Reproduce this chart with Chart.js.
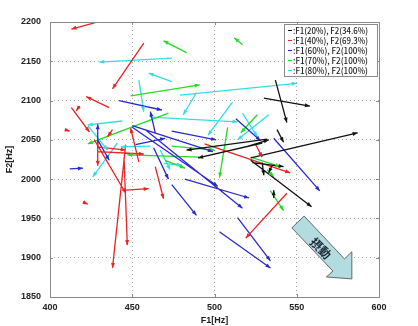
<!DOCTYPE html>
<html>
<head>
<meta charset="utf-8">
<script src="https://cdn.jsdelivr.net/npm/chart.js@4.4.1/dist/chart.umd.min.js"></script>
<style>
  html, body { margin: 0; padding: 0; background: #fff; }
  #wrap { width: 418px; height: 326px; }
</style>
</head>
<body>
<div id="wrap"><canvas id="formantChart"></canvas></div>
<script>
// 凡例
const seriesLabels = [
  'F1(20%), F2(34.6%)',
  'F1(40%), F2(69.3%)',
  'F1(60%), F2(100%)',
  'F1(70%), F2(100%)',
  'F1(80%), F2(100%)'
];
const seriesColors = ['#111111', '#ee2222', '#2a2acc', '#22dd22', '#33dde8'];

// 矢印: [F1始点, F2始点, F1終点, F2終点]
const arrows20 = [
  [522, 2024, 559, 1965], [530, 2103, 558, 2093], [537, 2126, 544, 2072],
  [538, 2063, 542, 2047], [522, 2027, 587, 2059], [532, 2051, 483, 2037],
  [529, 2046, 490, 2027], [519, 2041, 533, 2050], [523, 2021, 542, 2016],
  [529, 2021, 530, 2005], [536, 1976, 536, 1986], [535, 2018, 533, 2008]
];
const arrows40 = [
  [427, 2199, 413, 2191], [457, 2173, 438, 2115], [436, 2091, 422, 2105],
  [413, 2091, 424, 2060], [418, 2093, 416, 2087], [409, 2063, 412, 2061],
  [446, 2044, 438, 1887], [445, 2028, 447, 1916], [446, 1986, 460, 1988],
  [427, 2050, 446, 1982], [464, 2016, 469, 1975], [420, 1971, 423, 1968],
  [429, 2047, 429, 2017], [429, 2035, 457, 2032], [429, 2041, 446, 2037],
  [454, 2022, 449, 2065], [438, 2063, 435, 2054], [544, 1982, 519, 1925],
  [494, 2045, 546, 2008], [525, 2044, 529, 2028]
];
const arrows60 = [
  [442, 2100, 468, 2088], [464, 2059, 461, 2086], [429, 2040, 429, 2070],
  [429, 2050, 436, 2024], [463, 2040, 472, 2000], [474, 1993, 489, 1954],
  [482, 2000, 521, 1976], [458, 2063, 517, 1963], [450, 2066, 502, 1991],
  [514, 1951, 534, 1896], [503, 1933, 534, 1887], [536, 2052, 564, 1985],
  [412, 2013, 420, 2014], [452, 2044, 470, 2052], [513, 2077, 528, 2049],
  [450, 2068, 499, 2035], [474, 2061, 501, 2050]
];
const arrows70 = [
  [483, 2161, 469, 2176], [449, 2106, 491, 2120], [517, 2171, 512, 2180],
  [472, 2084, 423, 2045], [491, 2028, 447, 2031], [470, 2024, 482, 2014],
  [508, 2066, 503, 2002], [526, 2082, 516, 2059], [534, 1985, 542, 1960],
  [532, 2012, 536, 2003], [522, 2028, 540, 2016], [474, 2042, 500, 2037]
];
const arrows80 = [
  [474, 2154, 430, 2149], [474, 2124, 460, 2135], [454, 2126, 457, 2086],
  [479, 2107, 550, 2122], [489, 2110, 481, 2082], [444, 2074, 423, 2069],
  [461, 2079, 514, 2073], [441, 2046, 426, 2003], [461, 2042, 443, 2041],
  [467, 2037, 473, 2012], [469, 2020, 480, 2018], [511, 2098, 496, 2056],
  [517, 2084, 526, 2054], [533, 2082, 514, 2050], [423, 2068, 435, 2037]
];
const arrowSets = [arrows20, arrows40, arrows60, arrows70, arrows80];

// 目盛り
const f1Ticks = [400, 450, 500, 550, 600];
const f2Ticks = [1850, 1900, 1950, 2000, 2050, 2100, 2150, 2200];

// 線分データ (null で区切る)
function toSegments(list) {
  const pts = [];
  list.forEach(a => {
    pts.push({x: a[0], y: a[1]});
    pts.push({x: a[2], y: a[3]});
    pts.push({x: a[2], y: null});
  });
  return pts;
}

// 矢じり
const arrowHeadPlugin = {
  id: 'arrowHeads',
  afterDatasetsDraw(chart) {
    const {ctx, scales: {x, y}} = chart;
    for (let i = arrowSets.length - 1; i >= 0; i--) {
      ctx.save();
      ctx.fillStyle = seriesColors[i];
      arrowSets[i].forEach(a => {
        const x1 = x.getPixelForValue(a[0]), y1 = y.getPixelForValue(a[1]);
        const x2 = x.getPixelForValue(a[2]), y2 = y.getPixelForValue(a[3]);
        const ang = Math.atan2(y2 - y1, x2 - x1);
        const len = 5, w = 2;
        const bx = x2 - len * Math.cos(ang), by = y2 - len * Math.sin(ang);
        ctx.beginPath();
        ctx.moveTo(x2, y2);
        ctx.lineTo(bx + w * Math.sin(ang), by - w * Math.cos(ang));
        ctx.lineTo(bx - w * Math.sin(ang), by + w * Math.cos(ang));
        ctx.closePath();
        ctx.fill();
      });
      ctx.restore();
    }
  }
};

// 枠, 内側の目盛り線, 凡例, 摂動の矢印
const decorPlugin = {
  id: 'decor',
  afterDraw(chart) {
    const {ctx, chartArea: ca, scales: {x, y}} = chart;
    ctx.save();
    ctx.strokeStyle = '#8a8a8a';
    ctx.lineWidth = 1;
    ctx.setLineDash([]);
    ctx.strokeRect(Math.round(ca.left) + 0.5, Math.round(ca.top) + 0.5,
                   Math.round(ca.right - ca.left), Math.round(ca.bottom - ca.top));
    ctx.beginPath();
    f1Ticks.forEach(v => {
      const px = Math.round(x.getPixelForValue(v)) + 0.5;
      ctx.moveTo(px, ca.bottom); ctx.lineTo(px, ca.bottom - 3);
      ctx.moveTo(px, ca.top); ctx.lineTo(px, ca.top + 3);
    });
    f2Ticks.forEach(v => {
      const py = Math.round(y.getPixelForValue(v)) + 0.5;
      ctx.moveTo(ca.left, py); ctx.lineTo(ca.left + 3, py);
      ctx.moveTo(ca.right, py); ctx.lineTo(ca.right - 3, py);
    });
    ctx.stroke();

    // 摂動 の矢印
    const shape = [[547, 1938], [554.5, 1953], [579, 1898.5], [583.5, 1907.5],
                   [583.5, 1873], [568, 1875.5], [572, 1883]];
    ctx.beginPath();
    shape.forEach((p, i) => {
      const px = x.getPixelForValue(p[0]), py = y.getPixelForValue(p[1]);
      if (i === 0) ctx.moveTo(px, py); else ctx.lineTo(px, py);
    });
    ctx.closePath();
    ctx.fillStyle = '#b3dce0';
    ctx.fill();
    ctx.strokeStyle = '#666';
    ctx.stroke();
    ctx.translate(x.getPixelForValue(564.5), y.getPixelForValue(1912));
    ctx.rotate(Math.PI / 4);
    ctx.fillStyle = '#1a2630';
    ctx.font = 'bold 12px "Noto Sans CJK JP"';
    ctx.textAlign = 'center';
    ctx.textBaseline = 'middle';
    ctx.fillText('摂動', 0, 0);
    ctx.restore();

    // 凡例
    ctx.save();
    const bw = 93, bh = 52;
    const bx = Math.round(ca.right) - bw - 2, by = Math.round(ca.top) + 2;
    ctx.fillStyle = '#fff';
    ctx.fillRect(bx, by, bw, bh);
    ctx.strokeStyle = '#8a8a8a';
    ctx.lineWidth = 1;
    ctx.strokeRect(bx + 0.5, by + 0.5, bw, bh);
    ctx.font = '500 8.5px "Noto Sans CJK JP"';
    ctx.textBaseline = 'middle';
    seriesLabels.forEach((lab, i) => {
      const ry = by + 6.5 + i * 10;
      ctx.strokeStyle = seriesColors[i];
      ctx.beginPath();
      ctx.moveTo(bx + 4, ry); ctx.lineTo(bx + 8, ry);
      ctx.stroke();
      ctx.fillStyle = '#222';
      const txt = ':' + lab;
      const w = ctx.measureText(txt).width;
      const sx = Math.min(1, 75 / w);
      ctx.save();
      ctx.translate(bx + 9, ry);
      ctx.scale(sx, 1);
      ctx.fillText(txt, 0, 0);
      ctx.restore();
    });
    ctx.restore();
  }
};

const datasets = arrowSets.map((set, i) => ({
  label: seriesLabels[i],
  data: toSegments(set),
  borderColor: seriesColors[i],
  backgroundColor: seriesColors[i],
  borderWidth: 1.3,
  pointRadius: 0,
  showLine: true,
  spanGaps: false
}));

const tickFont = {family: '"Liberation Sans", Arial, sans-serif', size: 9, weight: 'bold'};
const gridStyle = {color: '#a8a8a8', lineWidth: 1, drawTicks: false};
const plain = v => String(v);

new Chart(document.getElementById('formantChart').getContext('2d'), {
  type: 'scatter',
  data: {datasets: datasets},
  options: {
    responsive: true,
    maintainAspectRatio: false,
    animation: false,
    layout: {padding: {top: 22, right: 39, left: 0, bottom: 0}},
    plugins: {legend: {display: false}, tooltip: {enabled: false}},
    scales: {
      x: {
        type: 'linear', min: 400, max: 600,
        afterFit: s => { s.height = 29; },
        afterBuildTicks: s => { s.ticks = f1Ticks.map(v => ({value: v})); },
        ticks: {color: '#222', font: tickFont, padding: 5, callback: plain},
        grid: gridStyle,
        border: {display: false, dash: [1, 3]},
        title: {display: true, text: 'F1[Hz]', color: '#222',
                font: {family: '"Liberation Sans", Arial, sans-serif', size: 9, weight: 'bold'},
                padding: {top: 0, bottom: 0}}
      },
      y: {
        type: 'linear', min: 1850, max: 2200,
        afterFit: s => { s.width = 50; },
        afterBuildTicks: s => { s.ticks = f2Ticks.map(v => ({value: v})); },
        ticks: {color: '#222', font: tickFont, padding: 9, callback: plain},
        grid: gridStyle,
        border: {display: false, dash: [1, 3]},
        title: {display: true, text: 'F2[Hz]', color: '#222',
                font: {family: '"Liberation Sans", Arial, sans-serif', size: 9, weight: 'bold'},
                padding: {top: 4, bottom: 4}}
      }
    }
  },
  plugins: [arrowHeadPlugin, decorPlugin]
});
</script>
</body>
</html>
